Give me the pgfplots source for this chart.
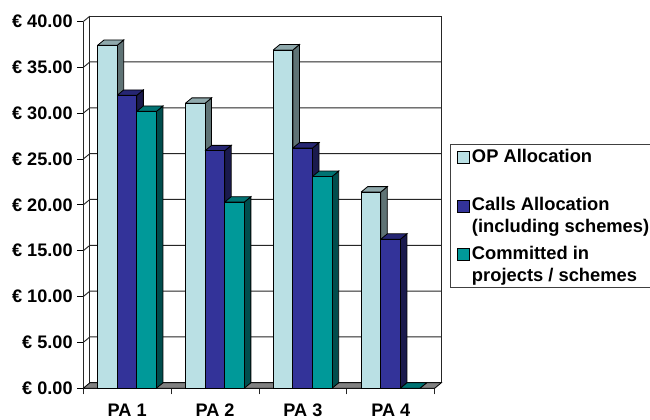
\documentclass[border=0pt]{standalone}
\usepackage{fontspec}
\setmainfont{Liberation Sans}
\usepackage{pgfplots}
\pgfplotsset{compat=1.18}

\definecolor{opfront}{HTML}{BAE0E4}
\definecolor{optop}{HTML}{8FA9AC}
\definecolor{opside}{HTML}{5F7375}
\definecolor{callfront}{HTML}{333399}
\definecolor{calltop}{HTML}{262673}
\definecolor{callside}{HTML}{1A1A4D}
\definecolor{comfront}{HTML}{009999}
\definecolor{comtop}{HTML}{007373}
\definecolor{comside}{HTML}{004D4D}

% depth of the fake 3d in axis units, bar width
\def\dx{0.075}
\def\dy{0.59}
\def\bw{0.2235}

% x of left edge, value, front, top, side colours
\newcommand{\barthree}[5]{%
  \pgfmathsetmacro\xa{#1+\bw}%
  \pgfmathsetmacro\xb{#1+\dx}%
  \pgfmathsetmacro\xc{#1+\bw+\dx}%
  \pgfmathsetmacro\yb{#2+\dy}%
  \addplot[fill=#5,draw=black,line width=0.6pt,forget plot] coordinates {(\xa,0) (\xc,\dy) (\xc,\yb) (\xa,#2) (\xa,0)};
  \addplot[fill=#4,draw=black,line width=0.6pt,forget plot] coordinates {(#1,#2) (\xb,\yb) (\xc,\yb) (\xa,#2) (#1,#2)};
  \addplot[fill=#3,draw=black,line width=0.6pt,forget plot] coordinates {(#1,0) (\xa,0) (\xa,#2) (#1,#2) (#1,0)};
}
\newcommand{\wallline}[1]{%
  \pgfmathsetmacro\yb{#1+\dy}%
  \pgfmathsetmacro\xb{4+\dx}%
  \addplot[draw=black!85,line width=0.7pt,forget plot] coordinates {(0,#1) (\dx,\yb) (\xb,\yb)};
}

\begin{document}
\begin{tikzpicture}[x=0.75pt,y=0.75pt]
\useasboundingbox (0,0) rectangle (650,419);
\begin{axis}[
    at={(94.8,33.6)},
    anchor=origin,
    scale only axis,
    width=263.6pt,
    height=275pt,
    xmin=0, xmax=4,
    ymin=0, ymax=40,
    clip=false,
    axis x line*=bottom,
    axis y line*=left,
    axis line style={-,line width=0.7pt,draw=black!85},
    xtick={0.5,1.5,2.5,3.5},
    xticklabels={PA 1,PA 2,PA 3,PA 4},
    minor xtick={0,1,2,3,4},
    ytick={0,5,10,15,20,25,30,35,40},
    yticklabels={€ 0.00,€ 5.00,€ 10.00,€ 15.00,€ 20.00,€ 25.00,€ 30.00,€ 35.00,€ 40.00},
    tick align=outside,
    major tick length=4.7pt,
    minor tick length=4.7pt,
    xtick style={draw=none},
    minor x tick style={draw=black!85,line width=0.7pt},
    ytick style={draw=black,line width=0.7pt},
    tick label style={font=\fontsize{13.6}{16}\selectfont\bfseries,inner sep=0pt},
    xticklabel style={yshift=-6.8pt},
    yticklabel style={xshift=-3.1pt},
    legend style={
        at={(1.0435,0.666)},
        anchor=north west,
        draw=black!75,
        line width=0.7pt,
        font=\fontsize{13.75}{16.3}\selectfont\bfseries,
        inner xsep=4.5pt,
        inner ysep=1.5pt,
        row sep=4.6pt,
    },
    legend cell align=left,
    legend image code/.code={\draw[#1,line width=0.6pt] (-8.5pt,3pt) rectangle (0.5pt,12pt);},
    legend style={cells={align=left}},
]
\addlegendimage{fill=opfront,draw=black}
\addlegendentry{OP Allocation\\ \strut}
\addlegendimage{fill=callfront,draw=black}
\addlegendentry{Calls Allocation\\(including schemes)}
\addlegendimage{fill=comfront,draw=black}
\addlegendentry{Committed in\\projects / schemes}

% back wall and floor
\addplot[fill=white,draw=black!85,line width=0.7pt,forget plot] coordinates {(0.075,0.59) (4.075,0.59) (4.075,40.59) (0.075,40.59) (0.075,0.59)};
\addplot[draw=black!85,line width=0.7pt,forget plot] coordinates {(0,40) (0.075,40.59)};
\wallline{5}
\wallline{10}
\wallline{15}
\wallline{20}
\wallline{25}
\wallline{30}
\wallline{35}
\addplot[fill=black!50,draw=black,line width=0.6pt,forget plot] coordinates {(0,0) (4,0) (4.075,0.59) (0.075,0.59) (0,0)};

% PA 1
\barthree{0.1616}{37.4}{opfront}{optop}{opside}
\barthree{0.3851}{31.95}{callfront}{calltop}{callside}
\barthree{0.6086}{30.2}{comfront}{comtop}{comside}
% PA 2
\barthree{1.1616}{31.08}{opfront}{optop}{opside}
\barthree{1.3851}{25.9}{callfront}{calltop}{callside}
\barthree{1.6086}{20.3}{comfront}{comtop}{comside}
% PA 3
\barthree{2.1616}{36.9}{opfront}{optop}{opside}
\barthree{2.3851}{26.2}{callfront}{calltop}{callside}
\barthree{2.6086}{23.1}{comfront}{comtop}{comside}
% PA 4
\barthree{3.1616}{21.4}{opfront}{optop}{opside}
\barthree{3.3851}{16.25}{callfront}{calltop}{callside}
\barthree{3.6086}{0}{comfront}{comtop}{comside}
\end{axis}
\end{tikzpicture}
\end{document}
